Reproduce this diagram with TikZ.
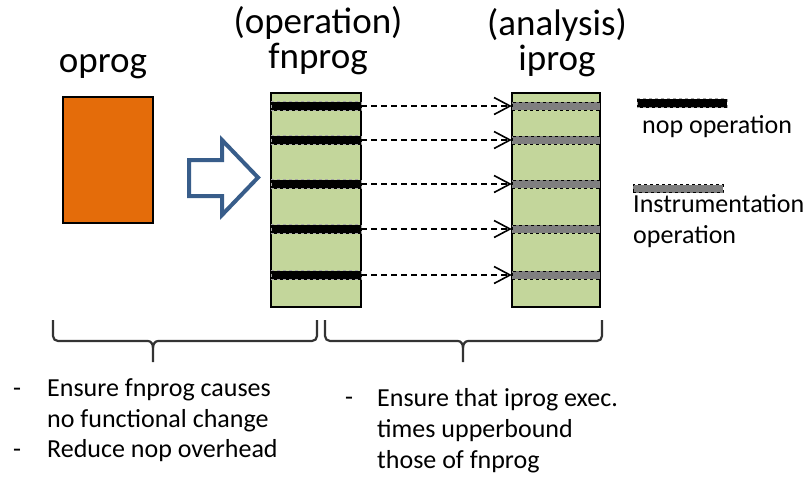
\documentclass[tikz,border=0pt]{standalone}
\usepackage{fontspec}
\setmainfont{Carlito}
\usepackage{xcolor}
\usetikzlibrary{arrows.meta,positioning}
\definecolor{progorange}{RGB}{228,108,10}
\definecolor{proggreen}{RGB}{195,214,155}
\definecolor{instgray}{RGB}{127,127,127}
\definecolor{arrowblue}{RGB}{56,93,138}
\tikzset{
  title/.style  ={font=\fontsize{37}{35}\selectfont, align=center, inner sep=0pt},
  txt/.style    ={font=\fontsize{26}{31}\selectfont, align=left, inner sep=0pt},
  prog/.style   ={draw=black, line width=1.4pt, inner sep=0pt},
  nopbar/.style ={fill=black, draw=gray!70, dashed, line width=0.6pt, minimum height=9pt, inner sep=0pt},
  instbar/.style={fill=instgray, draw=black, dashed, line width=0.5pt, minimum height=8pt, inner sep=0pt},
  flow/.style   ={-{Straight Barb[length=16pt,width=17pt,line width=1.6pt]}, line width=1.3pt, dash pattern=on 6pt off 4pt},
  bigarr/.style ={draw=arrowblue, line width=4pt, fill=white, line join=miter},
  brc/.style    ={draw=black!80, line width=2.2pt},
}

\begin{document}
\begin{tikzpicture}[x=1pt, y=-1pt]
  \useasboundingbox (0,0) rectangle (811,480);
  % the three programs
  \node[prog, fill=progorange, minimum width=90pt, minimum height=126pt] (oprog) at (108,160) {};
  \node[prog, fill=proggreen, minimum width=90pt, minimum height=214pt] (fnprog) at (316,200) {};
  \node[prog, fill=proggreen, minimum width=88pt, minimum height=214pt] (iprog) at (556,200) {};
  \node[title, anchor=base] (toprog) at (103,72) {oprog};
  \node[title, anchor=base] (tfnprog) at (318,68) {(operation)\\fnprog};
  \node[title, anchor=base] (tiprog) at (557,70) {(analysis)\\iprog};
  % nop -> instrumentation
  \foreach \y [count=\i] in {106,140,184,229,275} {
    \node[nopbar, minimum width=90pt] (nop\i) at (316,\y) {};
    \node[instbar, minimum width=88pt] (ins\i) at (556,\y) {};
    \draw[flow] (nop\i.east) -- (ins\i.west);
  }
  % block arrow
  \draw[bigarr] (189,160) -- (222,160) -- (222,140) -- (258,177.5)
    -- (222,215) -- (222,196) -- (189,196) -- cycle;
  % legend
  \node[nopbar, minimum width=90pt] (lnop) at (682,103) {};
  \node[txt, anchor=base west] (lnoptxt) at (642,133) {nop operation};
  \node[instbar, minimum width=90pt] (lins) at (678,188.5) {};
  \node[txt, anchor=base west] (linstxt) at (633,243) {Instrumentation\\operation};
  % braces
  \draw[brc] (53,320) -- (53,336) to[out=-90,in=180] (58,341) -- (148,341)
    to[out=0,in=90] (153,348) -- (153,362);
  \draw[brc] (153,348) to[out=90,in=180] (158,341) -- (312,341)
    to[out=0,in=-90] (317,336) -- (317,320);
  \draw[brc] (325,320) -- (325,336) to[out=-90,in=180] (330,341) -- (458,341)
    to[out=0,in=90] (463,348) -- (463,362);
  \draw[brc] (463,348) to[out=90,in=180] (468,341) -- (597,341)
    to[out=0,in=-90] (602,336) -- (602,320);
  % goals
  \node[txt, anchor=base west] (d1) at (13,396) {-};
  \node[txt, anchor=base west] (g1) at (47,427) {Ensure fnprog causes\\no functional change};
  \node[txt, anchor=base west] (d2) at (13,457) {-};
  \node[txt, anchor=base west] (g2) at (47,457) {Reduce nop overhead};
  \node[txt, anchor=base west] (d3) at (345,405) {-};
  \node[txt, anchor=base west] (g3) at (377,468) {Ensure that iprog exec.\\times upperbound\\those of fnprog};
\end{tikzpicture}
\end{document}
